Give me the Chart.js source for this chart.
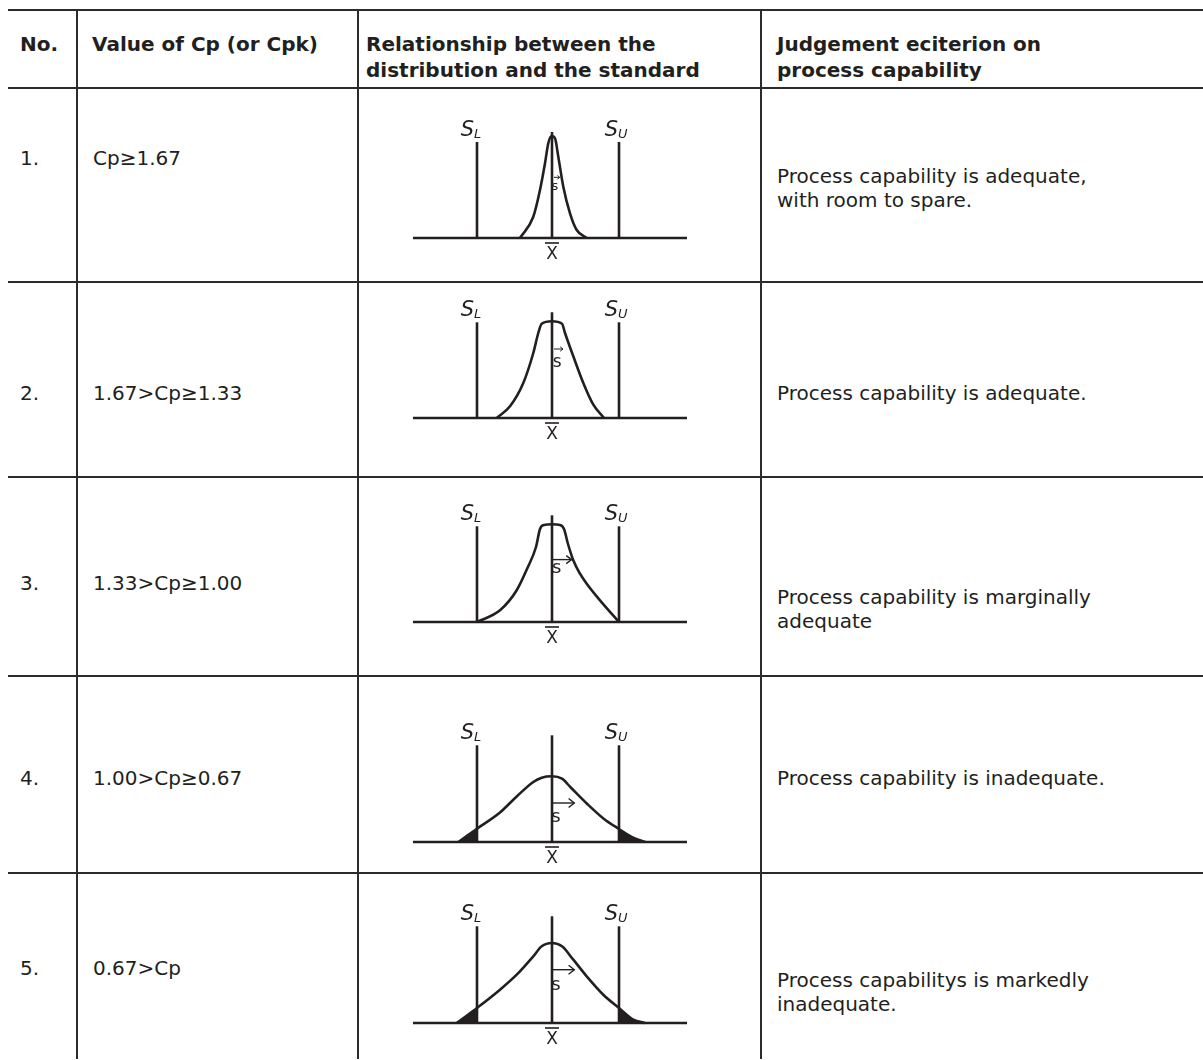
<!DOCTYPE html>
<html><head><meta charset="utf-8">
<script src="https://cdn.jsdelivr.net/npm/chart.js@4.4.1/dist/chart.umd.min.js"></script>
<style>
html,body{margin:0;padding:0;background:#fff;}
#page{position:relative;width:1203px;height:1060px;overflow:hidden;font-family:'DejaVu Sans',sans-serif;color:#231f20;}
.hl{position:absolute;height:2px;background:#2b2b2b;}
.vl{position:absolute;width:2px;background:#2b2b2b;}
.txt{position:absolute;white-space:nowrap;font-size:20px;line-height:24px;}
.hdr{font-weight:bold;font-size:20px;line-height:26px;}
canvas{position:absolute;}
</style></head><body><div id="page"></div>
<script>
// ---------- table content ----------
const headerLabels = ['No.', 'Value of Cp (or Cpk)', 'Relationship between the\ndistribution and the standard', 'Judgement eciterion on\nprocess capability'];
const rowNumbers = ['1.', '2.', '3.', '4.', '5.'];
const cpRanges = ['Cp\u22651.67', '1.67>Cp\u22651.33', '1.33>Cp\u22651.00', '1.00>Cp\u22650.67', '0.67>Cp'];
const judgements = [
  'Process capability is adequate,\nwith room to spare.',
  'Process capability is adequate.',
  'Process capability is marginally\nadequate',
  'Process capability is inadequate.',
  'Process capabilitys is markedly\ninadequate.'
];

// ---------- diagram values (x: distance from mean, y: height above axis) ----------
const specLimits = [-7.5, 6.7];               // S_L, S_U
const axisRange = [-13.9, 13.5];
const limitHeights = [9.6, 9.57, 9.57, 9.67, 9.67];
const meanHeights = [10.6, 10.57, 10.67, 10.67, 10.67];
const curveX = [
  [-3.2, -1.87, -1.2, -0.7, -0.37, -0.03, 0.3, 0.63, 1.13, 1.8, 2.47, 3.47],
  [-5.53, -4.2, -2.87, -1.87, -1.37, -1.03, 0, 1.0, 1.3, 2.13, 3.13, 4.13, 5.2],
  [-7.5, -5.2, -3.53, -2.5, -1.6, -1.2, -0.8, 0, 0.8, 1.2, 1.6, 2.13, 2.8, 3.47, 4.8, 6.7],
  [-9.37, -8.5, -7.5, -5.2, -3.53, -1.87, -1.03, 0, 1.0, 1.83, 3.5, 5.17, 6.7, 8.17, 9.33],
  [-9.53, -8.5, -7.5, -5.2, -3.53, -1.87, -1.03, 0, 1.0, 2.13, 3.47, 5.13, 6.7, 8.13, 9.3]
];
const curveY = [
  [0, 2.13, 4.8, 7.47, 9.47, 10.2, 9.97, 8.13, 5.13, 2.47, 0.8, 0],
  [0, 1.17, 3.5, 6.5, 8.5, 9.43, 9.67, 9.43, 8.5, 6.17, 3.5, 1.33, 0],
  [0, 1.17, 3.17, 5.3, 7.5, 9.3, 9.7, 9.77, 9.7, 9.3, 7.8, 6.17, 4.83, 3.83, 2.17, 0],
  [0, 0.62, 1.33, 2.95, 4.55, 6.0, 6.43, 6.57, 6.33, 5.5, 3.83, 2.33, 1.3, 0.4, 0],
  [0, 0.75, 1.5, 3.33, 4.83, 6.67, 7.67, 8.0, 7.67, 6.33, 4.67, 2.83, 1.5, 0.33, 0]
];
const arrowStart = [0.2, 0.2, 0, 0, 0];
const arrowEnd = [0.77, 1.1, 1.97, 2.23, 2.23];
const arrowLevel = [6.07, 6.9, 6.24, 3.9, 5.33];
const sLabelX = [0.3, 0.53, 0.47, 0.4, 0.4];
const sLabelY = [5.13, 5.5, 5.34, 2.5, 3.73];

// ---------- layout ----------
const ink = '#231f20';
const colX = [8, 77, 358, 761, 1203];
const rowY = [10, 88, 282, 477, 676, 873];
const textCenterY = [158, 393, 583, 778, 968];
const judgeFirstLineY = [176, 393, 597, 778, 980];
const baselineY = [238, 418, 622, 842, 1023];
const page = document.getElementById('page');

function addDiv(cls, style, text) {
  const d = document.createElement('div');
  d.className = cls;
  Object.assign(d.style, style);
  if (text !== undefined) d.innerText = text;
  page.appendChild(d);
  return d;
}
rowY.forEach(y => addDiv('hl', {left: colX[0] + 'px', top: (y - 1) + 'px', width: (colX[4] - colX[0]) + 'px'}));
colX.slice(1, 4).forEach(x => addDiv('vl', {left: (x - 1) + 'px', top: (rowY[0] - 1) + 'px', height: (1060 - rowY[0]) + 'px'}));

const headerX = [20, 92, 366, 777];
headerLabels.forEach((t, i) => addDiv('txt hdr', {left: headerX[i] + 'px', top: (44 - 13) + 'px'}, t));

rowNumbers.forEach((t, i) => addDiv('txt', {left: '20px', top: (textCenterY[i] - 12) + 'px'}, t));
cpRanges.forEach((t, i) => addDiv('txt', {left: '93px', top: (textCenterY[i] - 12) + 'px'}, t));
judgements.forEach((t, i) => addDiv('txt', {left: '777px', top: (judgeFirstLineY[i] - 12) + 'px'}, t));

// ---------- diagrams ----------
const sFonts = ['13px "DejaVu Sans"', '17px "DejaVu Sans"', '18px "DejaVu Sans"', '18px "DejaVu Sans"', '18px "DejaVu Sans"'];
const headBack = [0.22, 0.28, 0.55, 0.57, 0.57];
const headHalf = [0.18, 0.22, 0.4, 0.45, 0.45];
const labelPlugin = {
  id: 'diagramLabels',
  afterDatasetsDraw(chart) {
    const i = chart.options.plugins.diagramLabels.row;
    const {ctx} = chart;
    const x = chart.scales.x, y = chart.scales.y;
    ctx.save();
    ctx.fillStyle = ink; ctx.strokeStyle = ink;
    const yTop = y.getPixelForValue(limitHeights[i]);
    [[specLimits[0], 'L', -3], [specLimits[1], 'U', -1]].forEach(([v, sub, dx]) => {
      const px = x.getPixelForValue(v) + dx;
      ctx.textBaseline = 'alphabetic';
      ctx.font = 'oblique 21px "DejaVu Sans"'; ctx.textAlign = 'right';
      ctx.fillText('S', px, yTop - 6);
      ctx.font = 'oblique 13px "DejaVu Sans"'; ctx.textAlign = 'left';
      ctx.fillText(sub, px, yTop - 4);
    });
    const cx = x.getPixelForValue(0), by = y.getPixelForValue(0);
    ctx.font = '17px "DejaVu Sans"'; ctx.textAlign = 'center'; ctx.textBaseline = 'alphabetic';
    ctx.fillText('X', cx, by + 21);
    ctx.lineWidth = 1.6;
    ctx.beginPath(); ctx.moveTo(cx - 7, by + 5); ctx.lineTo(cx + 7, by + 5); ctx.stroke();
    ctx.font = sFonts[i]; ctx.textBaseline = 'middle'; ctx.textAlign = 'center';
    ctx.fillText('s', x.getPixelForValue(sLabelX[i]), y.getPixelForValue(sLabelY[i]));
    ctx.restore();
  }
};

function line(points, width, extra) {
  return Object.assign({data: points, borderColor: ink, backgroundColor: ink, borderWidth: width,
    pointRadius: 0, fill: false, tension: 0}, extra || {});
}

baselineY.forEach((by, i) => {
  const cv = document.createElement('canvas');
  cv.width = 320; cv.height = 180;
  Object.assign(cv.style, {left: '400px', top: (by - 148) + 'px', width: '320px', height: '180px'});
  page.appendChild(cv);
  const curve = curveX[i].map((v, k) => ({x: v, y: curveY[i][k]}));
  const leftTail = curve.filter(p => p.x <= specLimits[0]);
  const rightTail = curve.filter(p => p.x >= specLimits[1]);
  const thin = i < 2 ? 1 : 1.4;
  const ds = [
    line([{x: axisRange[0], y: 0}, {x: axisRange[1], y: 0}], 2.7),
    line([{x: specLimits[0], y: 0}, {x: specLimits[0], y: limitHeights[i]}], 2.6),
    line([{x: specLimits[1], y: 0}, {x: specLimits[1], y: limitHeights[i]}], 2.6),
    line([{x: 0, y: 0}, {x: 0, y: meanHeights[i]}], 2.6),
    line(curve, 2.6, {cubicInterpolationMode: 'monotone'}),
    line([{x: arrowStart[i], y: arrowLevel[i]}, {x: arrowEnd[i], y: arrowLevel[i]}], thin),
    line([{x: arrowEnd[i] - headBack[i], y: arrowLevel[i] + headHalf[i]}, {x: arrowEnd[i], y: arrowLevel[i]},
          {x: arrowEnd[i] - headBack[i], y: arrowLevel[i] - headHalf[i]}], thin)
  ];
  if (leftTail.length > 1) ds.push(line(leftTail, 0, {fill: 'origin', cubicInterpolationMode: 'monotone'}));
  if (rightTail.length > 1) ds.push(line(rightTail, 0, {fill: 'origin', cubicInterpolationMode: 'monotone'}));
  new Chart(cv, {
    type: 'line',
    data: {datasets: ds},
    options: {
      responsive: false, animation: false, devicePixelRatio: 1, events: [],
      layout: {padding: 0},
      plugins: {legend: {display: false}, tooltip: {enabled: false}, diagramLabels: {row: i}},
      scales: {
        x: {type: 'linear', min: -15.2, max: 16.8, display: false},
        y: {type: 'linear', min: -3.2, max: 14.8, display: false}
      }
    },
    plugins: [labelPlugin]
  });
});
</script></body></html>
